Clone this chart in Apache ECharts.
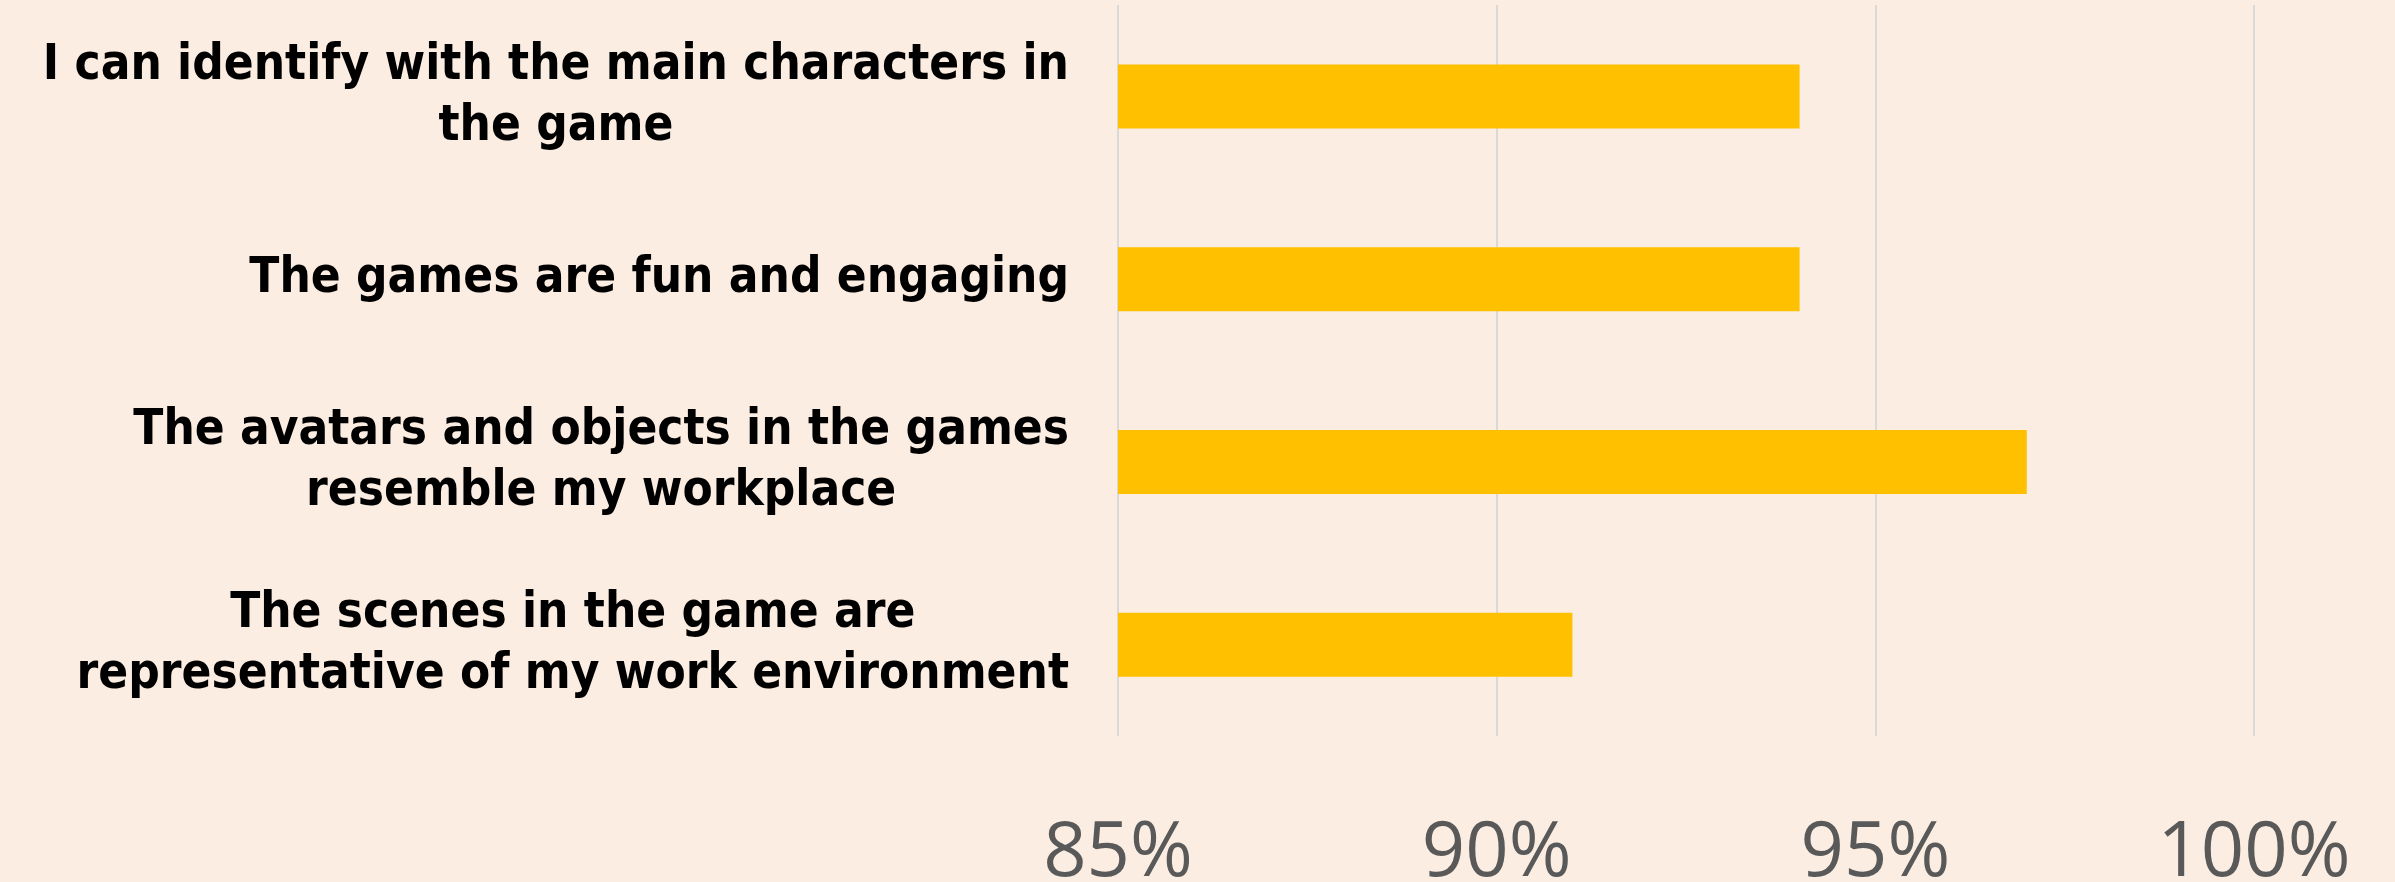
<!DOCTYPE html>
<html>
<head>
<meta charset="utf-8">
<script src="https://cdn.jsdelivr.net/npm/echarts@6/dist/echarts.min.js"></script>
<style>
html,body{margin:0;padding:0;background:#FBEDE2;}
#chart{width:2395px;height:882px;}
</style>
</head>
<body>
<div id="chart"></div>
<script>
const categories = [
  "I can identify with the main characters in\nthe game",
  "The games are fun and engaging",
  "The avatars and objects in the games\nresemble my workplace",
  "The scenes in the game are\nrepresentative of my work environment"
];
const values = [94, 94, 97, 91];
const xMin = 85, xMax = 100, xStep = 5;

const chart = echarts.init(document.getElementById('chart'));
chart.setOption({
  backgroundColor: '#FBEDE2',
  animation: false,
  grid: { left: 1118, right: 141, top: 5, bottom: 146, containLabel: false, outerBoundsMode: 'none' },
  xAxis: {
    type: 'value',
    min: xMin, max: xMax, interval: xStep,
    axisLine: { show: false },
    axisTick: { show: false },
    splitLine: { show: true, lineStyle: { color: '#D9D9D9', width: 2 } },
    axisLabel: {
      formatter: '{value}%',
      color: '#595959',
      fontFamily: '"Open Sans", "Liberation Sans", sans-serif',
      fontSize: 76,
      margin: 80
    }
  },
  yAxis: {
    type: 'category',
    data: categories,
    inverse: true,
    axisLine: { show: false },
    axisTick: { show: false },
    splitLine: { show: false },
    axisLabel: {
      margin: 49,
      align: 'right',
      formatter: function (v) {
        return v.split('\n').map(function (l) { return '{c|' + l + '}'; }).join('\n');
      },
      rich: {
        c: {
          align: 'center',
          color: '#000000',
          fontWeight: 'bold',
          fontFamily: '"Liberation Sans Narrow", "DejaVu Sans Condensed", "Liberation Sans", sans-serif',
          fontSize: 49,
          lineHeight: 61
        }
      }
    }
  },
  series: [{
    type: 'bar',
    data: values,
    barWidth: 64,
    itemStyle: { color: '#FFC000' }
  }]
});
</script>
</body>
</html>
